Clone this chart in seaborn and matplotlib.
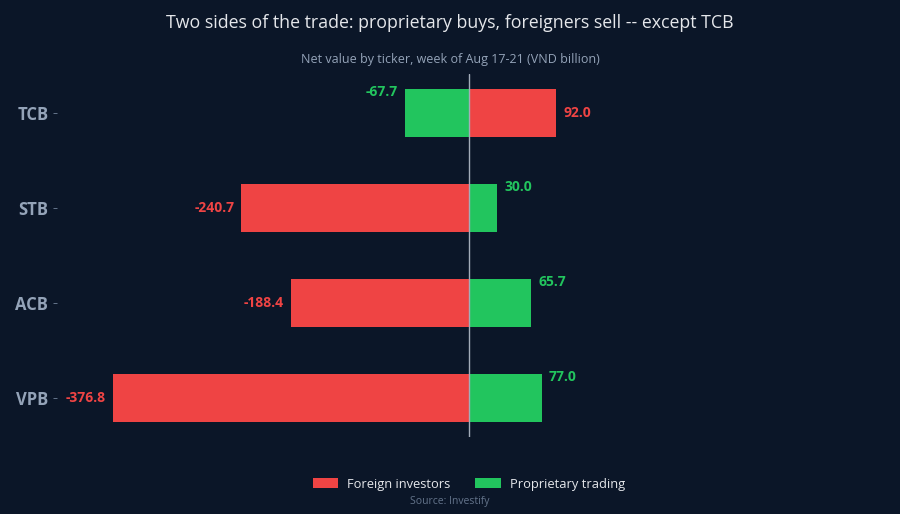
import matplotlib
matplotlib.use("Agg")
import pandas as pd
import matplotlib.pyplot as plt
import seaborn as sns
from matplotlib.patches import Patch

# data
tickers = ["TCB", "STB", "ACB", "VPB"]
foreign_net = [92.0, -240.7, -188.4, -376.8]
prop_net = [-67.7, 30.0, 65.7, 77.0]
series_names = ["Foreign investors", "Proprietary trading"]

BG = "#0b1628"
RED = "#ef4444"
GREEN = "#22c55e"
MUTED = "#94a3b8"

df = pd.DataFrame({
    "Ticker": tickers * 2,
    "Value": foreign_net + prop_net,
    "Series": [series_names[0]] * len(tickers) + [series_names[1]] * len(tickers),
})

sns.set_theme(style="white")
plt.rcParams["font.family"] = ["Open Sans", "Noto Sans", "DejaVu Sans"]

fig = plt.figure(figsize=(9, 5.14), dpi=100)
fig.patch.set_facecolor(BG)
ax = fig.add_axes([0.063, 0.150, 0.907, 0.706])
ax.set_facecolor(BG)

sns.barplot(data=df, x="Value", y="Ticker", hue="Series", order=tickers,
            palette=[RED, GREEN], dodge=False, width=0.5, orient="h",
            saturation=1, ax=ax, legend=False, linewidth=0)

ax.axvline(0, color="#a3acb9", linewidth=1.0, zorder=5)
ax.set_xlim(-436, 427)
ax.set_ylim(3.41, -0.41)

# value labels: foreign centred on bar, proprietary nudged to the bar top
for i, v in enumerate(foreign_net):
    ax.annotate(f"{v:.1f}", xy=(v, i), xytext=(5 if v > 0 else -5, 0),
                textcoords="offset points", ha="left" if v > 0 else "right",
                va="center", color=RED, fontsize=10, fontweight="bold")
for i, v in enumerate(prop_net):
    ax.annotate(f"{v:.1f}", xy=(v, i - 0.22), xytext=(5 if v > 0 else -5, 0),
                textcoords="offset points", ha="left" if v > 0 else "right",
                va="center", color=GREEN, fontsize=10, fontweight="bold")

ax.set_xlabel("")
ax.set_ylabel("")
ax.set_xticks([])
ax.tick_params(axis="y", left=True, colors="#64748b", labelcolor=MUTED,
               labelsize=12, length=3, width=0.7, pad=3)
for lbl in ax.get_yticklabels():
    lbl.set_fontweight("bold")
for s in ax.spines.values():
    s.set_visible(False)

fig.text(0.5, 0.955, "Two sides of the trade: proprietary buys, foreigners sell -- except TCB",
         ha="center", va="center", color="#e5e7eb", fontsize=12.8)
fig.text(0.5, 0.885, "Net value by ticker, week of Aug 17-21 (VND billion)",
         ha="center", va="center", color=MUTED, fontsize=9)

handles = [Patch(facecolor=RED, edgecolor="none", label=series_names[0]),
           Patch(facecolor=GREEN, edgecolor="none", label=series_names[1])]
leg = fig.legend(handles=handles, loc="center", bbox_to_anchor=(0.521, 0.058), ncol=2,
                 frameon=False, fontsize=9.3, handlelength=2.0, handleheight=0.78,
                 columnspacing=1.9, handletextpad=0.7)
for t in leg.get_texts():
    t.set_color("#e5e7eb")

fig.text(0.5, 0.024, "Source: Investify", ha="center", va="center",
         color="#64748b", fontsize=7.5)

fig.savefig("out.png", dpi=100, facecolor=BG)
